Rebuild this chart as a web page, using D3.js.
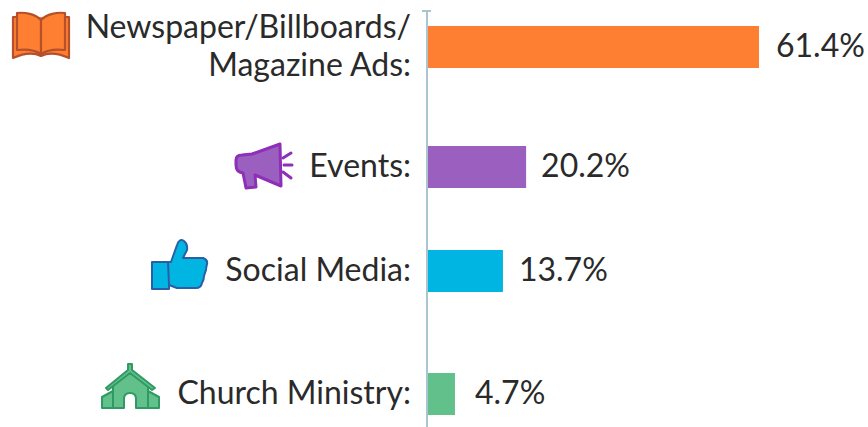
<!DOCTYPE html>
<html>
<head>
<meta charset="utf-8">
<script src="https://d3js.org/d3.v7.min.js"></script>
<style>
  body { margin: 0; background: #fff; }
  text { font-family: Lato, sans-serif; font-size: 32px; fill: #2a2a2a; }
</style>
</head>
<body>
<div id="chart"></div>
<script>
const width = 868
const height = 427

const categories = ["Newspaper", "Events", "Social", "Church"]
const labelLines = [["Newspaper/Billboards/", "Magazine Ads:"], ["Events:"], ["Social Media:"], ["Church Ministry:"]]
const valueLabels = ["61.4%", "20.2%", "13.7%", "4.7%"]
// bar lengths, they do not follow the printed labels exactly
const barValues = [61.4, 18.2, 13.9, 5.0]
const barColors = ["#ff7f32", "#9b5fc0", "#00b5e2", "#62c08b"]

const svg = d3.select("div#chart").append("svg").attr("width", width).attr("height", height).style("display", "block")

const axisX = 427
const x = d3.scaleLinear().domain([0, 61.4]).range([428, 759])
// rows are not evenly spaced in the original
const y = d3.scaleOrdinal().domain(categories).range([47, 167, 271, 394])
const barHeight = 42
const valueGap = d3.scaleOrdinal().domain(categories).range([17, 15, 16, 20])

const bars = svg.selectAll("rect.bar").data(categories).enter()
    .append("rect")
    .attr("class", "bar")
    .attr("x", x(0))
    .attr("y", d => y(d) - barHeight / 2)
    .attr("width", (d, i) => x(barValues[i]) - x(0))
    .attr("height", barHeight)
    .attr("fill", (d, i) => barColors[i])

// axis line with the small cap on top
svg.append("line").attr("x1", axisX).attr("x2", axisX).attr("y1", 11).attr("y2", height)
    .attr("stroke", "#a9c6cf").attr("stroke-width", 2)
svg.append("line").attr("x1", 422).attr("x2", 431).attr("y1", 11).attr("y2", 11)
    .attr("stroke", "#a9c6cf").attr("stroke-width", 2)

// category labels, right aligned against the axis
categories.forEach((c, i) => {
    const lines = labelLines[i]
    lines.forEach((line, j) => {
        svg.append("text").text(line)
            .attr("x", 411)
            .attr("y", y(c) + 10 + (j - (lines.length - 1) / 2) * 38)
            .attr("text-anchor", "end")
    })
})

svg.selectAll("text.value").data(categories).enter()
    .append("text")
    .attr("class", "value")
    .text((d, i) => valueLabels[i])
    .attr("x", (d, i) => x(barValues[i]) + valueGap(d))
    .attr("y", d => y(d) + 10)

// icons
const book = svg.append("g").attr("fill", "#ff7f32").attr("stroke", "#b5502a").attr("stroke-width", 2.2).attr("stroke-linejoin", "round")
book.append("path").attr("d", "M17,17 H13 V58 C22,54 33,52 41,56 C49,52 60,54 69,58 V17 H65")
book.append("path").attr("d", "M41,20 C35,14 25,12 17,13 V50 C25,49 35,50 41,54 Z")
book.append("path").attr("d", "M41,20 C47,14 57,12 65,13 V50 C57,49 47,50 41,54 Z")

const horn = svg.append("g").attr("fill", "#9b5fc0").attr("stroke", "#8e2fb8").attr("stroke-width", 3).attr("stroke-linejoin", "round").attr("stroke-linecap", "round")
horn.append("path").attr("d", "M280,144 L281,186 L255,175 L256,187 L246,188 L243,173 Q236,172 236,165 V160 Q236,155 242,155 L252,154 Z")
horn.append("path").attr("fill", "none").attr("d", "M283,158 L291,153 M284,165 L292,165 M283,172 L291,178")

const thumb = svg.append("g").attr("fill", "#00b5e2").attr("stroke", "#2a5fa5").attr("stroke-width", 2).attr("stroke-linejoin", "round")
thumb.append("rect").attr("x", 152).attr("y", 262).attr("width", 17).attr("height", 27)
thumb.append("path").attr("d", "M168,262 H171 L177,245 Q179,238 184,241 Q188,244 187,250 L183,258 H203 Q208,260 207,264 Q206,268 206,270 Q205,273 204,276 Q204,280 202,283 Q201,288 196,288 H177 L169,285 Z")

const church = svg.append("g").attr("fill", "#62c08b").attr("stroke", "#2f9a63").attr("stroke-width", 2).attr("stroke-linejoin", "round")
church.append("path").attr("d", "M102,397 L113,391 V408 H102 Z")
church.append("path").attr("d", "M159,397 L148,391 V408 H159 Z")
church.append("path").attr("d", "M113,385 L130,372 L148,385 V408 H136 V399 Q136,393 130,393 Q124,393 124,399 V408 H113 Z")
church.append("path").attr("d", "M128,370 V364 H132 V370 L155,388 L152,390 L130,373 L108,390 L106,388 Z")
</script>
</body>
</html>
